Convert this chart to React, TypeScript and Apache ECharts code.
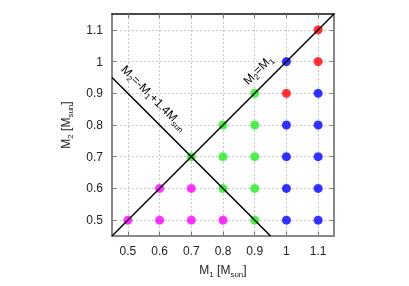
import React, { useEffect, useRef } from "react";
import * as echarts from "echarts";

const tickValues = [0.5, 0.6, 0.7, 0.8, 0.9, 1.0, 1.1];
const axisMin = 0.45;
const axisMax = 1.15;

const magentaPts = [[0.5, 0.5], [0.6, 0.5], [0.7, 0.5], [0.8, 0.5], [0.6, 0.6], [0.7, 0.6]];
const greenPts = [[0.9, 0.5], [0.8, 0.6], [0.9, 0.6], [0.7, 0.7], [0.8, 0.7], [0.9, 0.7], [0.8, 0.8], [0.9, 0.8], [0.9, 0.9]];
const bluePts = [[1.0, 0.5], [1.1, 0.5], [1.0, 0.6], [1.1, 0.6], [1.0, 0.7], [1.1, 0.7], [1.0, 0.8], [1.1, 0.8], [1.1, 0.9], [1.0, 1.0]];
const redPts = [[1.0, 0.9], [1.1, 1.0], [1.1, 1.1]];

const diagLine = [[0.45, 0.45], [1.15, 1.15]];
const antiLine = [[0.45, 0.95], [0.95, 0.45]];

const FONT = "Liberation Sans, Arial, sans-serif";

const rich = {
  a: { fontSize: 12, fontFamily: FONT, color: "#222", lineHeight: 16 },
  s: { fontSize: 8, fontFamily: FONT, color: "#222", verticalAlign: "bottom", lineHeight: 12, padding: [5, 0, 0, 0] },
};

function fmt(v: number) {
  const r = Math.round(v * 10) / 10;
  return Number.isInteger(r) ? String(r) : r.toFixed(1);
}

export default function App() {
  const ref = useRef<HTMLDivElement>(null);
  useEffect(() => {
    document.body.style.margin = "0";
    const chart = echarts.init(ref.current!, null, { renderer: "svg" });
    const gridLine = { show: true, lineStyle: { color: "#c8c8c8", type: [2, 2], width: 1 } };
    const baseAxis = (extra: any) => ({
      type: "value",
      min: axisMin,
      max: axisMax,
      axisTick: { show: true, inside: true, length: 4, customValues: tickValues, lineStyle: { color: "#777", width: 1 } },
      axisLabel: { show: true, customValues: tickValues, formatter: fmt, fontSize: 12, fontFamily: FONT, color: "#222", margin: 9 },
      splitLine: { show: false },
      ...extra,
    });
    chart.setOption({
      animation: false,
      grid: { left: 112, top: 14, width: 222, height: 222 },
      xAxis: [
        baseAxis({
          position: "bottom",
          axisLine: { show: true, onZero: false, lineStyle: { color: "#888", width: 2 } },
          splitLine: gridLine,
          name: "{a|M}{s|1}{a| [M}{s|sun}{a|]}",
          nameLocation: "middle",
          nameGap: 26,
          nameTextStyle: { rich },
        }),
        baseAxis({
          position: "top",
          axisLine: { show: true, onZero: false, lineStyle: { color: "#111", width: 1.5 } },
          axisLabel: { show: false },
        }),
      ],
      yAxis: [
        baseAxis({
          position: "left",
          axisLine: { show: true, onZero: false, lineStyle: { color: "#888", width: 2 } },
          splitLine: gridLine,
          name: "{a|M}{s|2}{a| [M}{s|sun}{a|]}",
          nameLocation: "middle",
          nameRotate: 90,
          nameGap: 38,
          nameTextStyle: { rich },
        }),
        baseAxis({
          position: "right",
          axisLine: { show: true, onZero: false, lineStyle: { color: "#888", width: 2 } },
          axisLabel: { show: false },
        }),
      ],
      series: [
        { type: "scatter", data: magentaPts, symbolSize: 9, itemStyle: { color: "#ff00ff" }, z: 2 },
        { type: "scatter", data: greenPts, symbolSize: 9, itemStyle: { color: "#22ee22" }, z: 2 },
        { type: "scatter", data: bluePts, symbolSize: 9, itemStyle: { color: "#0000ff" }, z: 2 },
        { type: "scatter", data: redPts, symbolSize: 9, itemStyle: { color: "#ff0000" }, z: 2 },
        { type: "line", data: diagLine, showSymbol: false, lineStyle: { color: "#000", width: 1.5 }, z: 3 },
        { type: "line", data: antiLine, showSymbol: false, lineStyle: { color: "#000", width: 1.5 }, z: 3 },
      ],
      graphic: [
        {
          type: "text",
          x: 258,
          y: 70,
          rotation: Math.PI / 4,
          style: { text: "{a|M}{s|2}{a|=M}{s|1}", rich, align: "center", verticalAlign: "middle" },
          z: 10,
        },
        {
          type: "text",
          x: 154,
          y: 98,
          rotation: -Math.PI / 4,
          style: { text: "{a|M}{s|2}{a|=-M}{s|1}{a|+1.4M}{s|sun}", rich, align: "center", verticalAlign: "middle" },
          z: 10,
        },
      ],
    });
    return () => chart.dispose();
  }, []);
  return <div ref={ref} style={{ position: "fixed", left: 0, top: 0, width: 409, height: 286 }} />;
}
